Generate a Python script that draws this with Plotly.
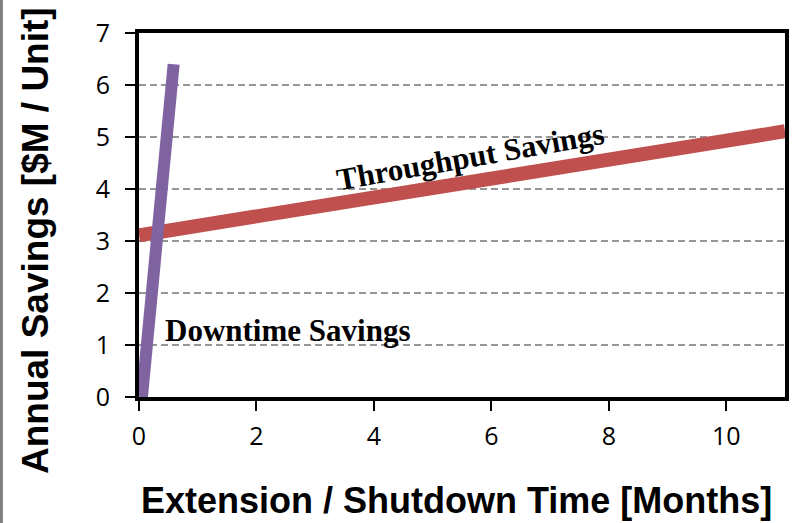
import plotly.graph_objects as go

downtime_x = [0.05, 0.59]
downtime_y = [0.0, 6.40]
throughput_x = [0.0, 11.0]
throughput_y = [3.11, 5.11]
x_ticks = [0, 2, 4, 6, 8, 10]
y_ticks = [0, 1, 2, 3, 4, 5, 6, 7]

W, H = 800, 523
L, R, T, B = 139, 15, 33, 126
pw, ph = W - L - R, H - T - B

fig = go.Figure()
fig.add_trace(go.Scatter(x=throughput_x, y=throughput_y, mode="lines",
                         line=dict(color="#C0504D", width=14), showlegend=False))
fig.add_trace(go.Scatter(x=downtime_x, y=downtime_y, mode="lines",
                         line=dict(color="#8064A2", width=12), showlegend=False))

fig.add_annotation(x=5.65, y=4.62, text="<b>Throughput Savings</b>", showarrow=False,
                   textangle=-10, font=dict(family="Liberation Serif", size=31, color="black"))
fig.add_annotation(x=2.53, y=1.27, text="<b>Downtime Savings</b>", showarrow=False,
                   font=dict(family="Liberation Serif", size=31, color="black"))

# axis titles placed as annotations (paper coordinates)
fig.add_annotation(xref="paper", yref="paper", x=(456 - L) / pw, y=(H - B - 501) / ph,
                   xanchor="center", yanchor="middle", showarrow=False,
                   text="<b>Extension / Shutdown Time [Months]</b>",
                   font=dict(family="Liberation Sans", size=36, color="black"))
fig.add_annotation(xref="paper", yref="paper", x=(35 - L) / pw, y=(H - B - 241) / ph,
                   xanchor="center", yanchor="middle", showarrow=False, textangle=-90,
                   text="<b>Annual Savings [$M / Unit]</b>",
                   font=dict(family="Liberation Sans", size=37, color="black"))

fig.add_shape(type="line", xref="paper", yref="paper", x0=-0.213, x1=-0.213, y0=-0.4, y1=1.2,
              line=dict(color="#808080", width=3))

fig.update_layout(
    width=W, height=H,
    margin=dict(l=L, r=R, t=T, b=B),
    plot_bgcolor="white", paper_bgcolor="white",
    xaxis=dict(range=[0, 11], tickvals=x_ticks, showline=True, linecolor="black", linewidth=4,
               mirror=True, ticks="outside", ticklen=10, tickcolor="black", tickwidth=2,
               showgrid=False, zeroline=False, ticklabelstandoff=4,
               tickfont=dict(family="Open Sans", size=25, color="black")),
    yaxis=dict(range=[0, 7], tickvals=y_ticks, showline=True, linecolor="black", linewidth=4,
               mirror=True, ticks="outside", ticklen=10, tickcolor="black", tickwidth=2,
               showgrid=True, gridcolor="#969696", griddash="7px,4px", gridwidth=1.5, zeroline=False,
               ticklabelstandoff=10,
               tickfont=dict(family="Open Sans", size=25, color="black")),
)

fig.write_html("out.html", config={"displayModeBar": False},
               post_script="document.body.style.margin='0';")
